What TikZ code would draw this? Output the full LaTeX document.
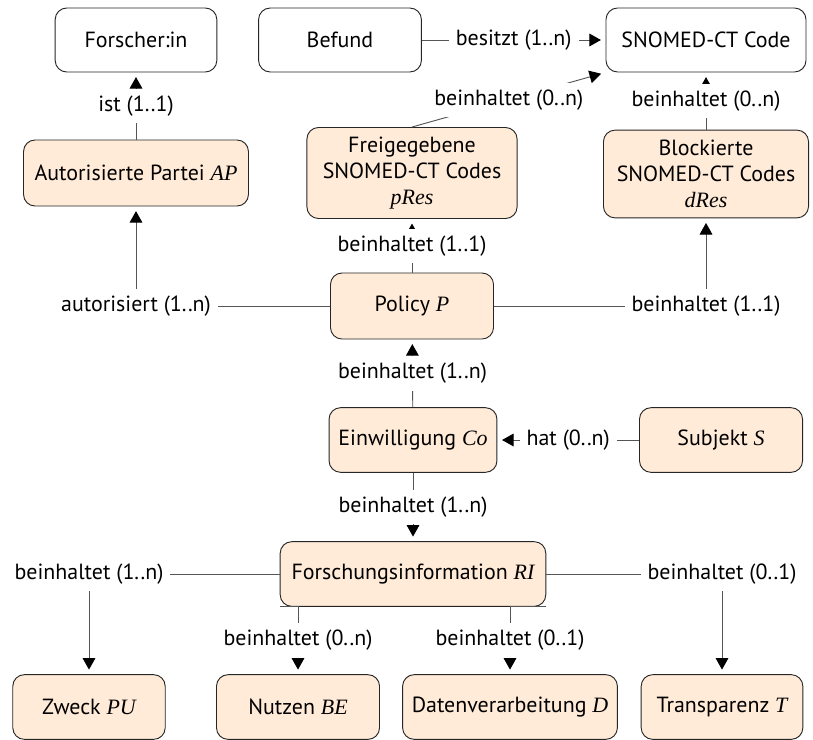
\documentclass[tikz,border=0pt]{standalone}
\usepackage{fontspec}
\setmainfont{PT Sans}
\newfontfamily\varfont{Liberation Serif}
\usetikzlibrary{arrows.meta}
\newcommand{\mvar}[1]{{\varfont\itshape #1}}
\definecolor{peach}{HTML}{FFEBD8}
\definecolor{linegray}{HTML}{555555}
\tikzset{
  entity/.style={draw=black!85, rounded corners=5pt, minimum height=27.7pt, inner sep=2pt, align=center},
  attr/.style={entity, fill=peach},
  rel/.style={draw=linegray, ->, shorten >=2pt},
  lbl/.style={fill=white, inner sep=3pt, text=black}
}
\begin{document}
\begin{tikzpicture}[x=0.433pt, y=-0.433pt, font=\fontsize{9.5}{11.3}\selectfont,
    >={Triangle[length=5pt,width=5.5pt,color=black]}]
  \useasboundingbox (0,0) rectangle (813,739);
  \node[entity, minimum width=70pt] (FI) at (136,40) {Forscher:in};
  \node[entity, minimum width=70.5pt] (Bef) at (340,40) {Befund};
  \node[entity, minimum width=86.6pt] (SC) at (706,40) {SNOMED-CT Code};
  \node[attr, minimum width=97.4pt, minimum height=28.6pt] (AP) at (136,173) {Autorisierte Partei \mvar{AP}};
  \node[attr, minimum width=91pt, minimum height=39.4pt] (pRes) at (412,173) {Freigegebene\\SNOMED-CT Codes\\\mvar{pRes}};
  \node[attr, minimum width=88.8pt, minimum height=38pt] (dRes) at (706,174) {Blockierte\\SNOMED-CT Codes\\\mvar{dRes}};
  \node[attr, minimum width=70.6pt, minimum height=28.6pt] (P) at (412,306) {Policy \mvar{P}};
  \node[attr, minimum width=72.7pt, minimum height=28pt] (Co) at (413,440) {Einwilligung \mvar{Co}};
  \node[attr, minimum width=70.6pt, minimum height=28pt] (S) at (721,440) {Subjekt \mvar{S}};
  \node[attr, minimum width=115pt, minimum height=28pt] (RI) at (413,574) {Forschungsinformation \mvar{RI}};
  \node[attr, minimum width=66pt, minimum height=28pt] (PU) at (89,707) {Zweck \mvar{PU}};
  \node[attr, minimum width=70.6pt, minimum height=28pt] (BE) at (298,707) {Nutzen \mvar{BE}};
  \node[attr, minimum width=93pt, minimum height=28pt] (D) at (510,707) {Datenverarbeitung \mvar{D}};
  \node[attr, minimum width=70pt, minimum height=28pt] (T) at (722,707) {Transparenz \mvar{T}};
  \draw[rel] (AP) -- node[lbl] {ist (1..1)} (FI);
  \draw[rel] (Bef) -- node[lbl] {besitzt (1..n)} (SC);
  \draw[rel] (pRes.north) -- node[lbl] {beinhaltet (0..n)} (SC.south west);
  \draw[rel] (dRes) -- node[lbl] {beinhaltet (0..n)} (SC);
  \draw[rel] (P.west) -| node[lbl] {autorisiert (1..n)} (AP.south);
  \draw[rel] (P) -- node[lbl] {beinhaltet (1..1)} (pRes);
  \draw[rel] (P.east) -| node[lbl] {beinhaltet (1..1)} (dRes.south);
  \draw[rel] (Co) -- node[lbl] {beinhaltet (1..n)} (P);
  \draw[rel] (S) -- node[lbl] {hat (0..n)} (Co);
  \draw[rel] (Co) -- node[lbl] {beinhaltet (1..n)} (RI);
  \draw[rel] (RI.west) -| node[lbl] {beinhaltet (1..n)} (PU.north);
  \draw[rel] (RI.south west) -| node[lbl, pos=0.75] {beinhaltet (0..n)} (BE.north);
  \draw[rel] (RI.south east) -| node[lbl, pos=0.75] {beinhaltet (0..1)} (D.north);
  \draw[rel] (RI.east) -| node[lbl] {beinhaltet (0..1)} (T.north);
\end{tikzpicture}
\end{document}
